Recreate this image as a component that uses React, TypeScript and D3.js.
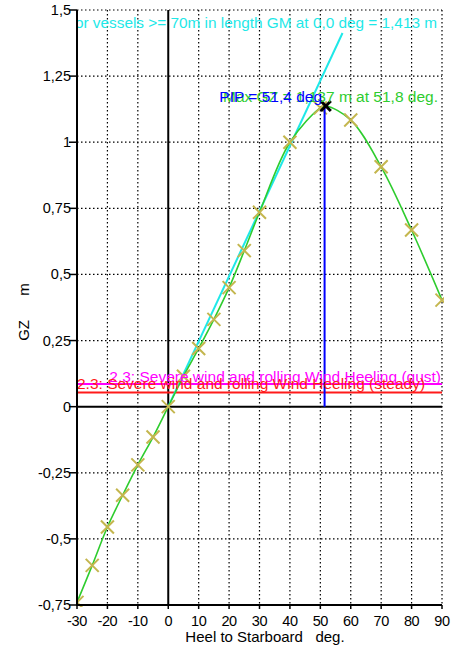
import * as d3 from "d3";

// GZ curve (righting lever)
const heelAngles = [-30, -25, -20, -15, -10, -5, 0, 5, 10, 15, 20, 25, 30, 40, 50, 60, 70, 80, 90];
const gzValues = [-0.74, -0.6, -0.455, -0.335, -0.22, -0.115, 0, 0.115, 0.22, 0.33, 0.45, 0.59, 0.735, 1.0, 1.13, 1.084, 0.907, 0.668, 0.403];

const maxGzAngle = 51.8;
const maxGz = 1.137;
const pipAngle = 51.4;
const gmValue = 1.413;
const gustLever = 0.086;
const steadyLever = 0.054;

const xTicks = [-30, -20, -10, 0, 10, 20, 30, 40, 50, 60, 70, 80, 90];
const yTicks = [-0.75, -0.5, -0.25, 0, 0.25, 0.5, 0.75, 1, 1.25, 1.5];
const yTickLabels = ["-0,75", "-0,5", "-0,25", "0", "0,25", "0,5", "0,75", "1", "1,25", "1,5"];

const labels = {
  gm: "For vessels >= 70m in length GM at 0,0 deg = 1,413 m",
  max: "Max GZ = 1,137 m at 51,8 deg.",
  pip: "PIP = 51,4 deg",
  gust: "2.3: Severe wind and rolling Wind Heeling (gust)",
  steady: "2.3: Severe wind and rolling Wind Heeling (steady)",
  xTitle: "Heel to Starboard   deg.",
  yTitle: "GZ  m",
};

const W = 455;
const H = 652;
const FONT = "'Liberation Sans', Arial, sans-serif";
const NOTE = 15.5; // annotation font size

export default function App() {
  const x = d3.scaleLinear().domain([-30, 90]).range([77, 442]);
  const y = d3.scaleLinear().domain([-0.75, 1.5]).range([605, 10]);

  // curve goes through the marked points plus the max
  const pts: [number, number][] = heelAngles.map((a, i) => [a, gzValues[i]]);
  const curvePts = [...pts, [maxGzAngle, maxGz] as [number, number]];
  curvePts.sort((a, b) => a[0] - b[0]);

  const line = d3.line<[number, number]>()
    .x(d => x(d[0]))
    .y(d => y(d[1]))
    .curve(d3.curveCatmullRom.alpha(0.5));

  const gmEnd = 180 / Math.PI; // 1 radian
  const cs = 6.5; // cross half size

  return (
    <svg width={W} height={H} style={{ position: "absolute", left: 0, top: 0, background: "#fff" }}
      fontFamily={FONT}>
      <defs>
        <clipPath id="plot">
          <rect x={x(-30)} y={y(1.5) - 2} width={x(90) - x(-30) + 2} height={y(-0.75) - y(1.5) + 4} />
        </clipPath>
      </defs>

      {/* dotted grid */}
      <g stroke="#000" strokeWidth={1.2} strokeDasharray="1.5,2.5">
        {xTicks.filter(t => t !== -30 && t !== 0).map(t => (
          <line key={"gx" + t} x1={x(t)} x2={x(t)} y1={y(1.5)} y2={y(-0.75)} />
        ))}
        {yTicks.filter(t => t !== -0.75 && t !== 0).map(t => (
          <line key={"gy" + t} x1={x(-30)} x2={x(90)} y1={y(t)} y2={y(t)} />
        ))}
      </g>

      {/* zero lines */}
      <g stroke="#000" strokeWidth={2}>
        <line x1={x(0)} x2={x(0)} y1={y(1.5)} y2={y(-0.75)} />
        <line x1={x(-30)} x2={x(90)} y1={y(0)} y2={y(0)} />
      </g>

      {/* wind heeling levers */}
      <line x1={x(-30)} x2={x(90)} y1={y(gustLever)} y2={y(gustLever)} stroke="#ff00ff" strokeWidth={2} />
      <line x1={x(-30)} x2={x(90)} y1={y(steadyLever)} y2={y(steadyLever)} stroke="#ff1a1a" strokeWidth={2} />

      <g clipPath="url(#plot)">
        {/* GM line */}
        <line x1={x(0)} y1={y(0)} x2={x(gmEnd)} y2={y(gmValue)} stroke="#1ee8e8" strokeWidth={2} />

        {/* GZ curve */}
        <path d={line(curvePts) ?? ""} fill="none" stroke="#2ecc2e" strokeWidth={1.6} />

        {/* markers */}
        <g stroke="#c4b64e" strokeWidth={2}>
          {pts.map(([a, v]) => (
            <g key={"m" + a} transform={`translate(${x(a)},${y(v)})`}>
              <line x1={-cs} y1={-cs} x2={cs} y2={cs} />
              <line x1={-cs} y1={cs} x2={cs} y2={-cs} />
            </g>
          ))}
        </g>

        {/* PIP */}
        <line x1={x(pipAngle)} x2={x(pipAngle)} y1={y(0)} y2={y(maxGz) + 2} stroke="#0000ff" strokeWidth={2} />

        {/* max GZ */}
        <g stroke="#000" strokeWidth={3} transform={`translate(${x(maxGzAngle)},${y(maxGz)})`}>
          <line x1={-5} y1={-5} x2={5} y2={5} />
          <line x1={-5} y1={5} x2={5} y2={-5} />
        </g>

        <text x={437} y={28} textAnchor="end" fontSize={15.35} fill="#1ee8e8">{labels.gm}</text>
        <text x={438} y={102} textAnchor="end" fontSize={NOTE} fill="#2ecc2e">{labels.max}</text>
        <text x={322} y={102} textAnchor="end" fontSize={NOTE} fill="#0000ff">{labels.pip}</text>
        <text x={441} y={382} textAnchor="end" fontSize={NOTE} fill="#ff00ff">{labels.gust}</text>
        <text x={x(-30)} y={389} fontSize={NOTE} fill="#ff1a1a">{labels.steady}</text>
      </g>

      {/* axes */}
      <g stroke="#000" strokeWidth={2}>
        <line x1={x(-30)} x2={x(-30)} y1={y(1.5)} y2={y(-0.75) + 1} />
        <line x1={x(-30) - 1} x2={x(90)} y1={y(-0.75)} y2={y(-0.75)} />
      </g>
      <g stroke="#000" strokeWidth={1.5}>
        {yTicks.map(t => (
          <line key={"ty" + t} x1={x(-30) - 8} x2={x(-30)} y1={y(t)} y2={y(t)} />
        ))}
        {xTicks.map(t => (
          <line key={"tx" + t} x1={x(t)} x2={x(t)} y1={y(-0.75)} y2={y(-0.75) + 4} />
        ))}
      </g>

      <g fontSize={14.5} fill="#000">
        {yTicks.map((t, i) => (
          <text key={"ly" + t} x={x(-30) - 6} y={y(t) + 5} textAnchor="end">{yTickLabels[i]}</text>
        ))}
        {xTicks.map(t => (
          <text key={"lx" + t} x={x(t)} y={626} textAnchor="middle" letterSpacing={-0.4}>{t}</text>
        ))}
      </g>
      <g fontSize={15} fill="#000">
        <text x={265} y={642} textAnchor="middle" xmlSpace="preserve">{labels.xTitle}</text>
        <text transform="translate(29,312) rotate(-90)" textAnchor="middle" xmlSpace="preserve"
          wordSpacing={8}>{labels.yTitle}</text>
      </g>
    </svg>
  );
}
